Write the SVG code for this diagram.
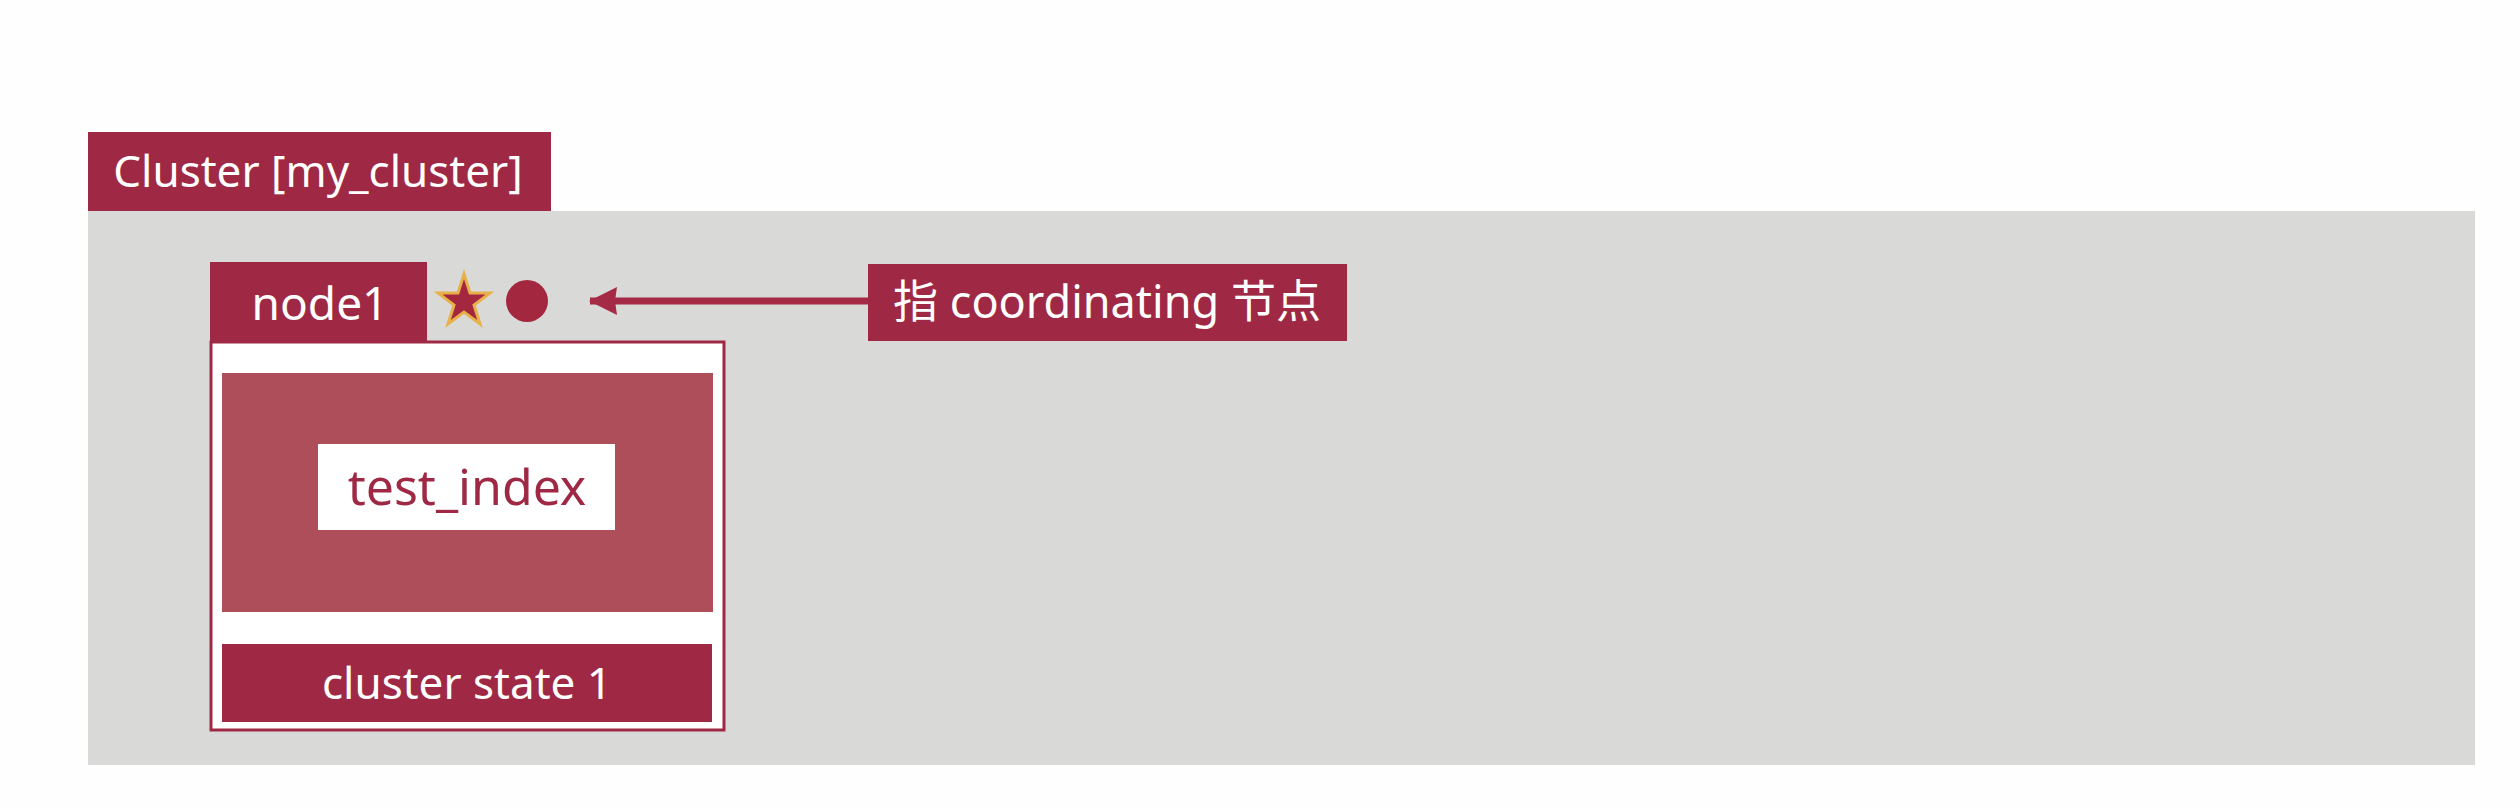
<svg xmlns="http://www.w3.org/2000/svg" width="2520" height="808" viewBox="0 0 2520 808">
<defs>
<style>
.red{fill:#9F2944}
.lt{font-family:"Noto Sans","Open Sans","Noto Sans CJK SC",sans-serif;fill:#FFFFFF}
.dk{font-family:"Noto Sans","Open Sans",sans-serif;fill:#9F2944}
</style>
<marker id="ah" viewBox="0 0 28 28" refX="27" refY="14" markerWidth="28" markerHeight="28" markerUnits="userSpaceOnUse" orient="auto">
<path d="M0,0 L28,14 L0,28 L2,14 Z" fill="#A52A45"/>
</marker>
</defs>
<rect width="2520" height="808" fill="#FDFEFD"/>
<g id="cluster">
<rect x="88" y="211" width="2387" height="554" fill="#D9DAD8"/>
<rect class="red" x="88" y="132" width="463" height="79"/>
<text class="lt" x="318" y="187" font-size="44" text-anchor="middle">Cluster [my_cluster]</text>
</g>
<g id="node1">
<rect x="211" y="342" width="513" height="388" fill="#FFFFFF" stroke="#9F2944" stroke-width="3"/>
<rect class="red" x="210" y="262" width="217" height="81"/>
<text class="lt" x="320" y="320" font-size="46" text-anchor="middle">node1</text>
<rect x="222" y="373" width="491" height="239" fill="#AE4E5A"/>
<rect x="318" y="444" width="297" height="86" fill="#FFFFFF"/>
<text class="dk" x="467" y="505" font-size="50" text-anchor="middle">test_index</text>
<rect class="red" x="222" y="644" width="490" height="78"/>
<text class="lt" x="467" y="699" font-size="44" text-anchor="middle">cluster state 1</text>
<polygon points="464,274 470,293 490,293 474,305 480,324 464,312 448,324 454,305 438,293 458,293" fill="#A2273F" stroke="#E8B04A" stroke-width="3"/>
<circle cx="527" cy="301" r="21" fill="#A2273F"/>
</g>
<g id="label">
<rect class="red" x="868" y="264" width="479" height="77"/>
<text class="lt" x="1107" y="318" font-size="45" text-anchor="middle">指 coordinating 节点</text>
</g>
<g id="connectors">
<line x1="868" y1="301" x2="590" y2="301" stroke="#A52A45" stroke-width="7" marker-end="url(#ah)"/>
</g>
</svg>
